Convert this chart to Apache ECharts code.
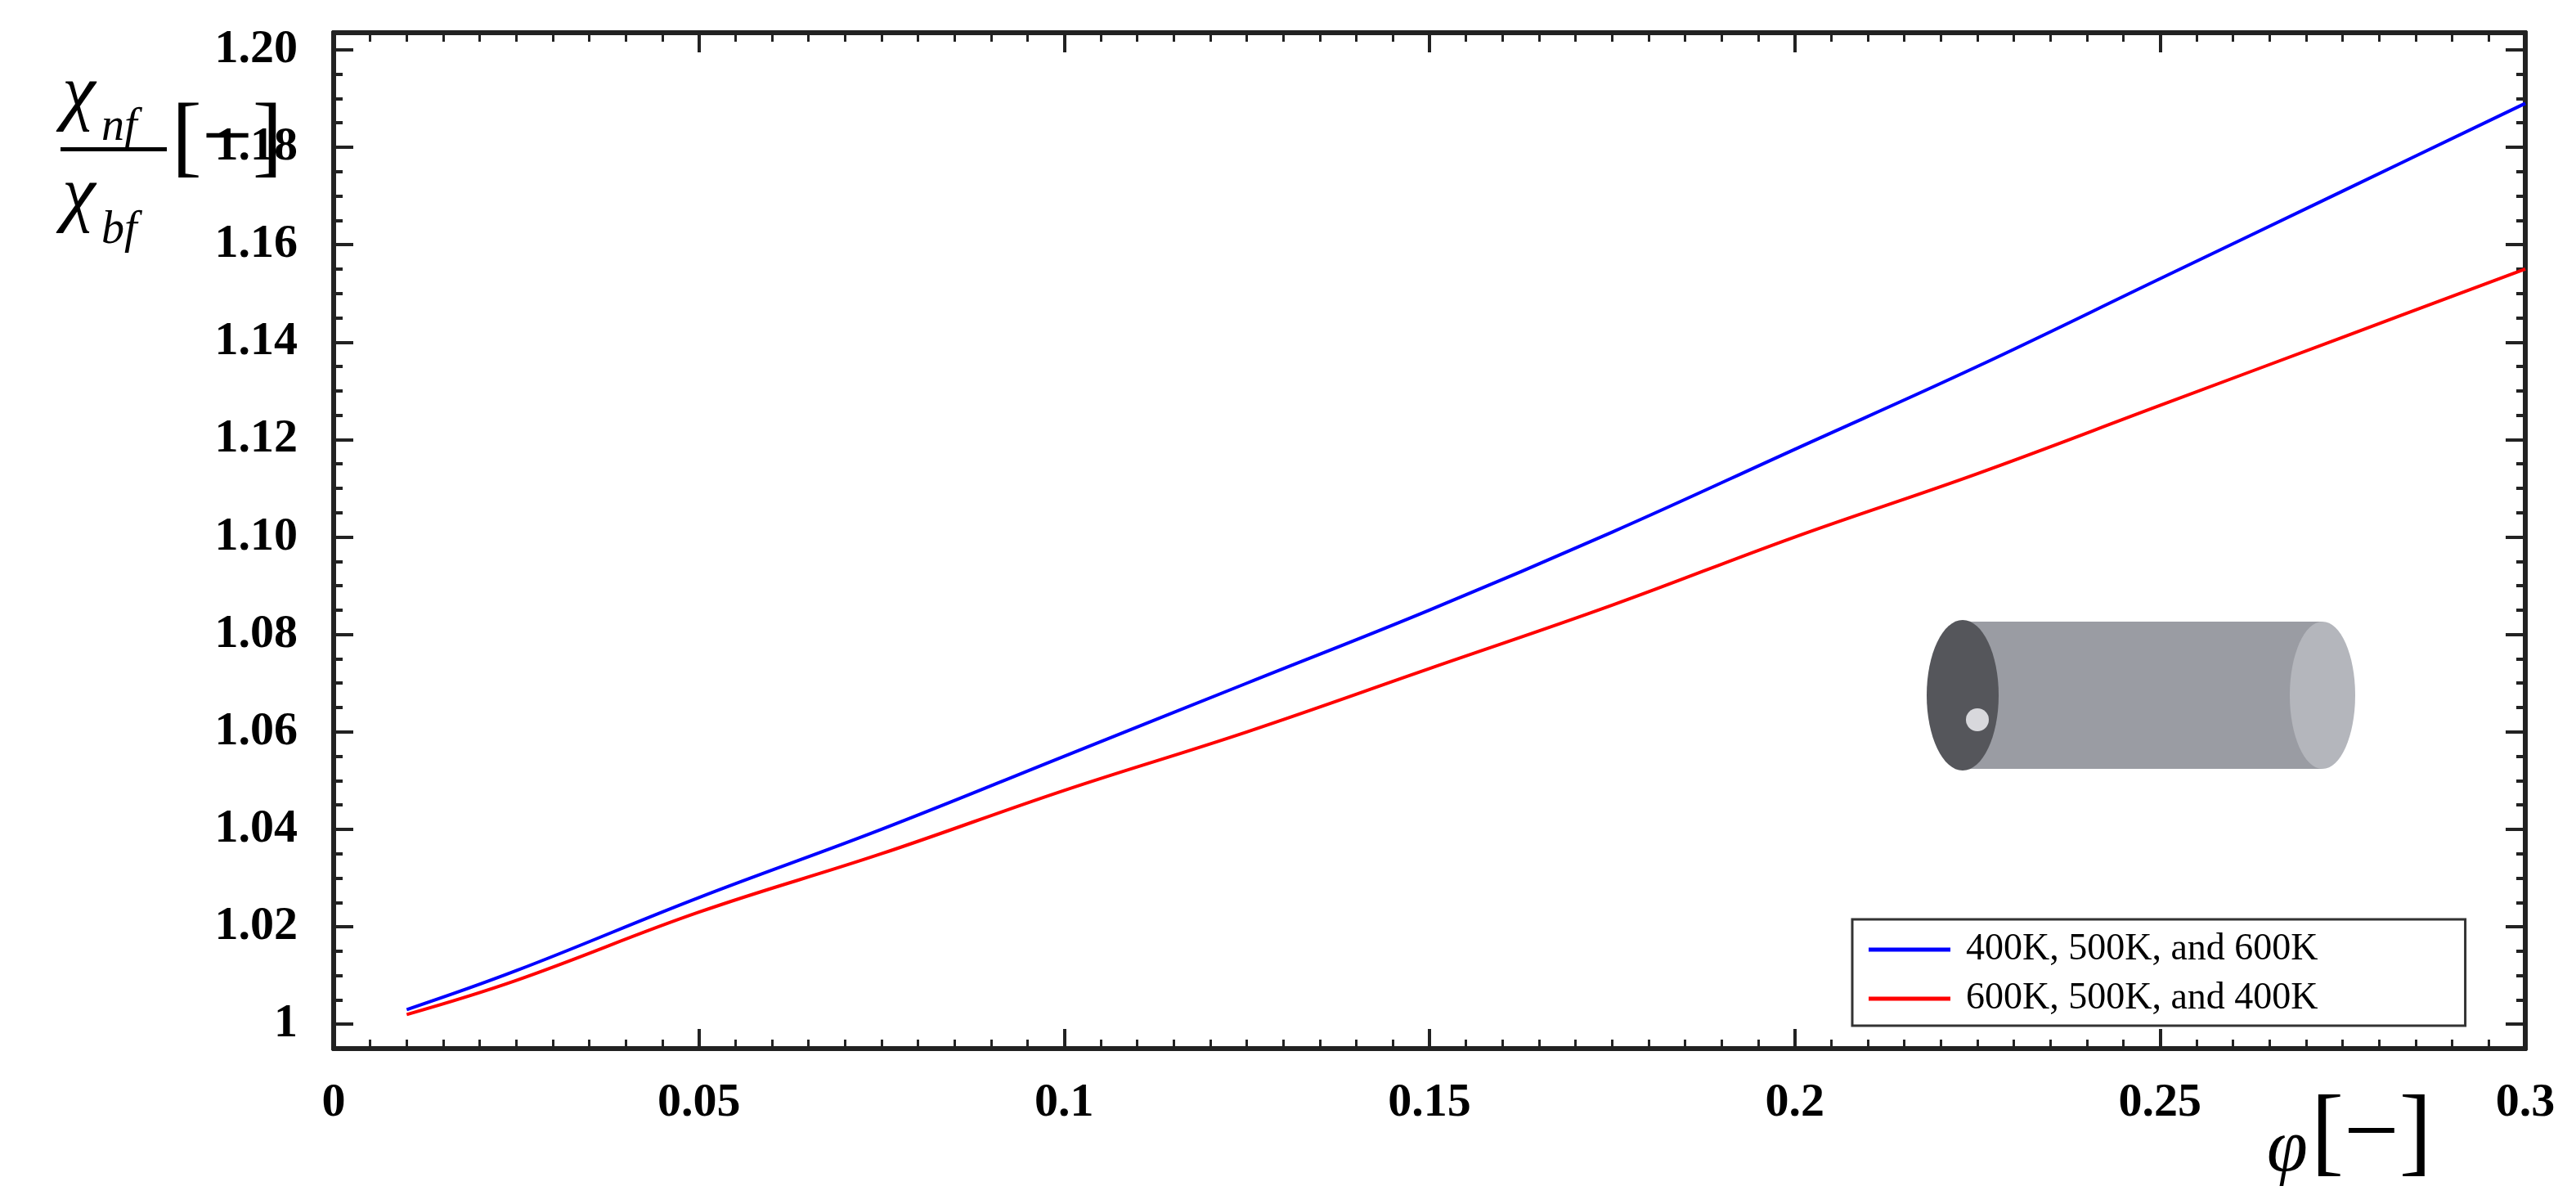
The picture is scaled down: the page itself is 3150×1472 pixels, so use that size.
<!DOCTYPE html>
<html>
<head>
<meta charset="utf-8">
<script src="https://cdn.jsdelivr.net/npm/echarts@6/dist/echarts.min.js"></script>
<style>html,body{margin:0;background:#fff}#c{width:3150px;height:1472px}</style>
</head>
<body>
<div id="c"></div>
<script>
// 数据
const phi = [0.01, 0.025, 0.05, 0.075, 0.1, 0.125, 0.15, 0.175, 0.2, 0.225, 0.25, 0.275, 0.3];
const blueVals = [1.003, 1.011, 1.026, 1.040, 1.055, 1.070, 1.085, 1.101, 1.118, 1.135, 1.153, 1.171, 1.189];
const redVals = [1.002, 1.009, 1.023, 1.035, 1.048, 1.060, 1.073, 1.086, 1.100, 1.113, 1.127, 1.141, 1.155];
const yTicks = [1, 1.02, 1.04, 1.06, 1.08, 1.10, 1.12, 1.14, 1.16, 1.18, 1.20];
const yMinor = [0.995, 1.005, 1.01, 1.015, 1.025, 1.03, 1.035, 1.045, 1.05, 1.055, 1.065, 1.07, 1.075,
  1.085, 1.09, 1.095, 1.105, 1.11, 1.115, 1.125, 1.13, 1.135, 1.145, 1.15, 1.155, 1.165, 1.17, 1.175, 1.185, 1.19, 1.195];
const names = ["400K, 500K, and 600K", "600K, 500K, and 400K"];

const font = "Liberation Serif";
const axisColor = "#222";

const yAxisBase = (pos, ticks, len, labels) => ({
  type: "value",
  position: pos,
  min: 0.995,
  max: 1.2035,
  axisLine: { show: true, lineStyle: { color: axisColor, width: 6 } },
  axisTick: { show: true, inside: true, length: len, customValues: ticks, lineStyle: { color: axisColor, width: 4 } },
  axisLabel: labels
    ? {
        show: true,
        customValues: yTicks,
        formatter: (v) => (Math.abs(v - 1) < 1e-9 ? "1" : v.toFixed(2)),
        fontFamily: font, fontWeight: "bold", fontSize: 58, color: "#000", margin: 44,
      }
    : { show: false },
  splitLine: { show: false },
});

const xAxisBase = (pos, labels) => ({
  type: "value",
  position: pos,
  min: 0,
  max: 0.3,
  interval: 0.05,
  axisLine: { show: true, lineStyle: { color: axisColor, width: 6 } },
  axisTick: { show: true, inside: true, length: 24, lineStyle: { color: axisColor, width: 4 } },
  minorTick: { show: true, splitNumber: 10, length: 11, lineStyle: { color: axisColor, width: 3 } },
  axisLabel: labels
    ? { show: true, formatter: (v) => (v === 0 ? "0" : String(+v.toFixed(2))), fontFamily: font, fontWeight: "bold", fontSize: 58, color: "#000", margin: 38 }
    : { show: false },
  splitLine: { show: false },
});

const chart = echarts.init(document.getElementById("c"));
chart.setOption({
  animation: false,
  grid: { left: 408, right: 62, top: 40, bottom: 190 },
  xAxis: [xAxisBase("bottom", true), xAxisBase("top", false)],
  yAxis: [
    yAxisBase("left", yTicks, 24, true),
    yAxisBase("left", yMinor, 11, false),
    yAxisBase("right", yTicks, 24, false),
    yAxisBase("right", yMinor, 11, false),
  ],
  legend: {
    left: 2265, top: 1124,
    orient: "vertical",
    itemWidth: 100, itemHeight: 5, itemGap: 14,
    padding: [14, 180, 10, 20],
    borderColor: "#333", borderWidth: 3, backgroundColor: "#fff",
    textStyle: { fontFamily: font, fontSize: 46, color: "#000", padding: [0, 0, 0, 14] },
    icon: "rect",
    data: names,
  },
  series: [
    { name: names[0], type: "line", smooth: 0.4, data: phi.map((x, i) => [x, blueVals[i]]), showSymbol: false, lineStyle: { color: "#0000ff", width: 4 }, itemStyle: { color: "#0000ff" } },
    { name: names[1], type: "line", smooth: 0.4, data: phi.map((x, i) => [x, redVals[i]]), showSymbol: false, lineStyle: { color: "#ff0000", width: 4 }, itemStyle: { color: "#ff0000" } },
  ],
  graphic: [
    // y轴标题
    { type: "text", left: 76, top: 72, style: { text: "χ", font: "italic 92px " + font, fill: "#000" } },
    { type: "text", left: 124, top: 128, style: { text: "nf", font: "italic 56px " + font, fill: "#000" } },
    { type: "rect", shape: { x: 74, y: 180, width: 130, height: 5 }, style: { fill: "#000" } },
    { type: "text", left: 76, top: 196, style: { text: "χ", font: "italic 92px " + font, fill: "#000" } },
    { type: "text", left: 124, top: 254, style: { text: "bf", font: "italic 56px " + font, fill: "#000" } },
    { type: "text", left: 210, top: 118, style: { text: "[−]", font: "110px " + font, fill: "#000" } },
    // x轴标题
    { type: "text", left: 2772, top: 1362, style: { text: "φ", font: "italic 90px " + font, fill: "#000" } },
    { type: "text", left: 2826, top: 1330, style: { text: "[−]", font: "120px " + font, fill: "#000" } },
    // 圆柱示意
    { type: "rect", shape: { x: 2400, y: 760, width: 440, height: 180 }, style: { fill: "#9a9ca3" } },
    { type: "ellipse", shape: { cx: 2840, cy: 850, rx: 40, ry: 90 }, style: { fill: "#b4b6bc" } },
    { type: "ellipse", shape: { cx: 2400, cy: 850, rx: 44, ry: 92 }, style: { fill: "#55565b" } },
    { type: "circle", shape: { cx: 2418, cy: 880, r: 14 }, style: { fill: "#d8d8dc" } },
  ],
});
</script>
</body>
</html>
